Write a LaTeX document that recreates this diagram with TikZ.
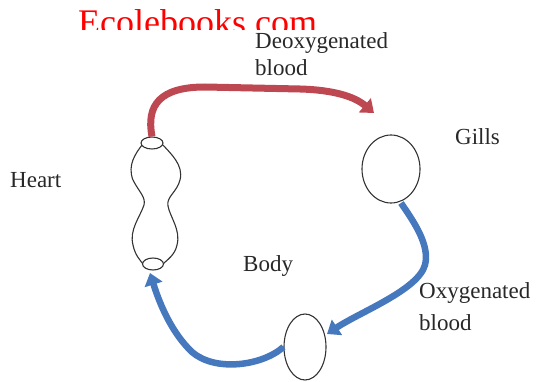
\documentclass[tikz,border=0pt]{standalone}
\usepackage{fontspec}
\setmainfont{Liberation Serif}
\usetikzlibrary{shapes.geometric,arrows.meta}
\definecolor{redflow}{RGB}{190,72,82}
\definecolor{blueflow}{RGB}{70,120,190}
\definecolor{labelgray}{RGB}{40,40,40}
\tikzset{
  lbl/.style={anchor=base west, inner sep=0pt, text=labelgray, font=\fontsize{23}{26}\selectfont},
  organ/.style={ellipse, draw=black!80, line width=1.1pt, inner sep=0pt},
  redarrow/.style={draw=redflow, line width=7pt, -{Triangle[length=12pt,width=18pt]}},
  bluearrow/.style={draw=blueflow, line width=6.5pt, -{Triangle[length=12pt,width=18pt]}}
}
\begin{document}
\begin{tikzpicture}[x=1pt,y=-1pt]
\useasboundingbox (0,0) rectangle (538,382);
% watermark, cropped at the top edge
\begin{scope}
\clip (0,0) rectangle (538,30);
\node[anchor=base west, inner sep=0pt, text=red, font=\fontsize{36}{40}\selectfont] (wm) at (78,35) {Ecolebooks.com};
\end{scope}
% labels
\node[lbl] (deo1) at (255,49) {Deoxygenated};
\node[lbl] (deo2) at (255,76) {blood};
\node[lbl] (gillst) at (455,145) {Gills};
\node[lbl] (heartt) at (10,188) {Heart};
\node[lbl] (bodyt) at (243,271) {Body};
\node[lbl] (oxy1) at (419,298) {Oxygenated};
\node[lbl] (oxy2) at (419,330) {blood};
% organs
\node[organ, minimum width=58pt, minimum height=68pt] (gills) at (391,169) {};
\node[organ, minimum width=42pt, minimum height=66pt] (body) at (305,347) {};
% heart
\draw[black!80, line width=1.1pt]
  (142,145) .. controls (136,153) and (127,165) .. (133,180)
  .. controls (139,192) and (146,197) .. (144,205)
  .. controls (140,217) and (129,230) .. (133,245)
  .. controls (135,255) and (140,260) .. (143,264);
\draw[black!80, line width=1.1pt]
  (163,145) .. controls (170,153) and (184,165) .. (180,180)
  .. controls (177,192) and (166,197) .. (168,206)
  .. controls (170,217) and (181,230) .. (177,245)
  .. controls (175,255) and (167,260) .. (163,264);
\node[organ, fill=white, minimum width=22pt, minimum height=12pt] (htop) at (152,143) {};
\node[organ, fill=white, minimum width=21pt, minimum height=12pt] (hbot) at (153,264) {};
% flow arrows
\coordinate (rtip) at (374,113);
\coordinate (btip) at (327,334);
\coordinate (htip) at (150,273);
\coordinate (gout) at (401,203);
\draw[redarrow] (htop.north) .. controls (146,105) and (160,87) .. (205,87)
  -- (300,89) .. controls (335,90) and (355,97) .. (rtip);
\draw[bluearrow] (gout) .. controls (414,222) and (430,245) .. (425,265)
  .. controls (418,290) and (360,312) .. (btip);
\draw[bluearrow] (body.west) .. controls (262,366) and (215,372) .. (192,352)
  .. controls (172,333) and (160,305) .. (htip);
\end{tikzpicture}
\end{document}
